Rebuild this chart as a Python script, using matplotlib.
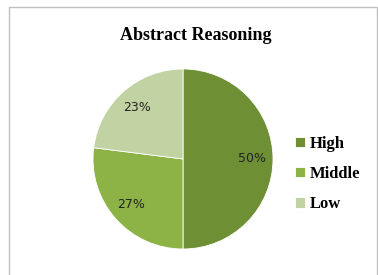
import matplotlib
matplotlib.use("Agg")
import matplotlib.pyplot as plt
from matplotlib.patches import Rectangle

# data
labels = ["High", "Middle", "Low"]
shares = [50, 27, 23]
colors = ["#6F8F34", "#8DB346", "#C2D3A3"]

W, H = 378, 275
fig = plt.figure(figsize=(W / 100, H / 100), dpi=100)
fig.patch.set_facecolor("white")

# outer frame of the chart area
fig.patches.append(Rectangle((9 / W, -0.1), (377 - 9) / W, 1.1 - 7 / H,
                             transform=fig.transFigure, fill=False,
                             edgecolor="#BFBFBF", linewidth=1.0))

cx, cy, r = 183, 159, 90
ax = fig.add_axes([(cx - r) / W, (H - cy - r) / H, 2 * r / W, 2 * r / H])
wedges, texts, autotexts = ax.pie(
    shares, colors=colors, startangle=90, counterclock=False,
    autopct="%d%%", pctdistance=0.77,
    wedgeprops=dict(edgecolor="white", linewidth=0.6),
    textprops=dict(fontsize=9, family="DejaVu Sans", color="#222222"))
ax.set_xlim(-1, 1)
ax.set_ylim(-1, 1)
ax.set_aspect("equal")

fig.text(196 / W, 1 - 36 / H, "Abstract Reasoning", ha="center", va="center",
         fontsize=13, fontweight="bold", family="Liberation Serif")

fig.legend(wedges, labels, loc="center left",
           bbox_to_anchor=(280 / W, 1 - 174 / H), frameon=False,
           prop=dict(family="Liberation Serif", weight="bold", size=12),
           handlelength=0.6, handleheight=0.6, handletextpad=0.3,
           labelspacing=0.85)

fig.savefig("out.png", dpi=100)
